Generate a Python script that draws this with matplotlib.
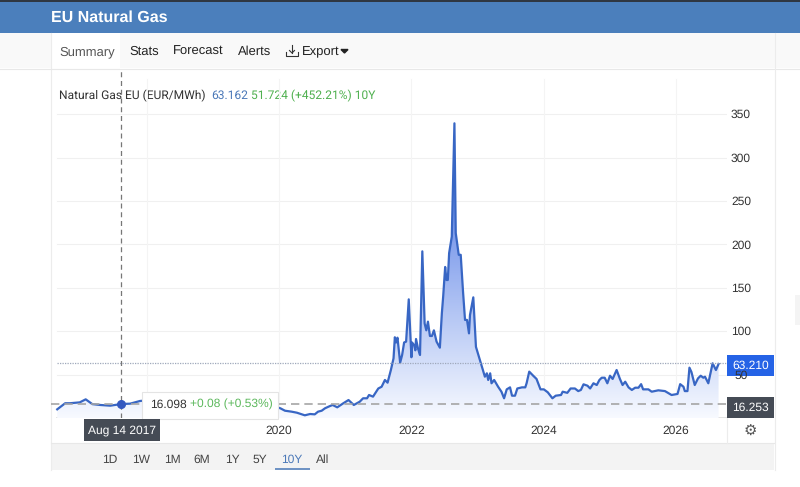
import numpy as np
from matplotlib import pyplot as plt
from matplotlib.patches import Rectangle

plt.rcParams['font.family'] = ['Liberation Sans', 'DejaVu Sans']
plt.rcParams['text.hinting'] = 'none'
plt.rcParams['text.hinting_factor'] = 1

W, H = 800, 487

# decimal years and EUR/MWh
years = [2016.65, 2016.69, 2016.77, 2016.84, 2016.92, 2016.99, 2017.08, 2017.18, 2017.30, 2017.45,
         2017.62, 2017.75, 2017.90, 2018.10, 2018.40, 2018.70, 2018.95, 2019.20, 2019.50, 2019.70,
         2019.90,
         2020.02, 2020.09, 2020.19, 2020.27, 2020.39, 2020.47, 2020.54, 2020.59, 2020.645, 2020.695,
         2020.77, 2020.81, 2020.88, 2020.97, 2021.05, 2021.13, 2021.22, 2021.27, 2021.33, 2021.36,
         2021.42, 2021.50, 2021.55, 2021.60, 2021.64,
         2021.69, 2021.73, 2021.75, 2021.77, 2021.79, 2021.83, 2021.86, 2021.89, 2021.92, 2021.96,
         2022.00, 2022.01, 2022.04, 2022.06, 2022.07, 2022.10, 2022.13, 2022.165, 2022.20, 2022.225,
         2022.25, 2022.28, 2022.31, 2022.34, 2022.38, 2022.43, 2022.46, 2022.48, 2022.51, 2022.53,
         2022.55, 2022.57, 2022.61, 2022.65, 2022.67, 2022.715, 2022.745, 2022.78, 2022.81, 2022.84,
         2022.87, 2022.885, 2022.935, 2022.975,
         2023.04, 2023.08, 2023.11, 2023.14, 2023.16, 2023.19, 2023.21, 2023.25, 2023.31, 2023.36,
         2023.40, 2023.44, 2023.49, 2023.52, 2023.565, 2023.60, 2023.67, 2023.72, 2023.74, 2023.78,
         2023.84, 2023.89, 2023.95, 2024.00, 2024.06, 2024.13, 2024.18, 2024.26, 2024.285, 2024.355,
         2024.405, 2024.47, 2024.52, 2024.56, 2024.60, 2024.66, 2024.70, 2024.75, 2024.80, 2024.84,
         2024.875, 2024.92, 2024.96, 2025.00, 2025.04, 2025.10, 2025.15, 2025.19, 2025.23, 2025.28,
         2025.33, 2025.38, 2025.43, 2025.47, 2025.50, 2025.58, 2025.63, 2025.73, 2025.83, 2025.93,
         2026.02, 2026.06, 2026.11, 2026.13, 2026.17, 2026.20, 2026.23, 2026.28, 2026.33, 2026.37,
         2026.41, 2026.435, 2026.485, 2026.55, 2026.60, 2026.64]
prices = [10, 12.3, 17, 17, 17.6, 18, 21.5, 16, 15, 14.2,
          16.1, 16.5, 19.6, 21, 20, 25, 27, 19, 12, 11,
          14,
          11.2, 8.4, 7.3, 6.1, 3.1, 4.6, 4.2, 7.3, 8.4, 11.2,
          13.8, 15, 12.3, 16.9, 20.7, 15, 18.8, 22.7, 22.7, 26.5,
          24.6, 34, 36, 43.8, 40.7,
          55.3, 68.7, 93, 87, 92.5, 63.7, 72.6, 87, 88, 136.7,
          70, 87, 84, 78, 91, 80, 72.6, 192, 109, 101,
          111, 94.5, 94.5, 101, 88, 81, 120.6, 140, 174, 159,
          159, 190, 209, 339.5, 213, 188, 188, 145.5, 113, 113,
          97.5, 118.7, 139, 82,
          65.7, 55.3, 47.6, 51.5, 43.8, 51.5, 40, 43.8, 36, 30.3,
          22.7, 33, 35.3, 25.7, 25.7, 34, 35.3, 35.3, 40, 53.4,
          48.7, 45, 33, 33, 29.6, 22.7, 25.7, 26.5, 30.3, 29,
          34, 34, 31, 32.3, 38.8, 37.2, 34, 40, 38, 43.8,
          46.4, 46.4, 40, 48.7, 45, 55.3, 45, 38, 41.8, 35.3,
          32.3, 34.9, 34.9, 39, 33, 33, 30.3, 31.9, 31, 26.5,
          27.7, 39, 36, 31, 31, 58, 53, 38, 45.7, 48.7,
          46.4, 47.6, 40, 63, 55.3, 62.2]

y_ticks = [50, 100, 150, 200, 250, 300, 350]
x_ticks = [2018, 2020, 2022, 2024, 2026]
x_labels = [2020, 2022, 2024, 2026]
ranges = ['1D', '1W', '1M', '6M', '1Y', '5Y', '10Y', 'All']
range_pos = [110, 141, 172, 202, 232, 260, 292, 323]
tabs = ['Stats', 'Forecast', 'Alerts']
tab_pos = [129, 173, 238]

last_price = 63.21
low_price = 16.253
cursor_year = 2017.62
cursor_price = 16.098

fig = plt.figure(figsize=(W / 100, H / 100), dpi=100, facecolor='white')

# page furniture is drawn on a full size axes in pixel units
bg = fig.add_axes([0, 0, 1, 1])
bg.set_xlim(0, W)
bg.set_ylim(H, 0)
bg.axis('off')


def box(x0, y0, x1, y1, color, ax=bg, **kw):
    ax.add_patch(Rectangle((x0, y0), x1 - x0, y1 - y0, facecolor=color,
                           edgecolor='none', **kw))


box(0, 0, W, 2, '#2f3742')
box(0, 2, W, 33, '#4b7fbc')
box(0, 33, W, 68, '#f9f9f9')
box(51, 33, 120, 69, 'white')
bg.plot([51, 51], [33, 470], color='#ececec', lw=0.8)
bg.plot([0, W], [68.5, 68.5], color='#e8e8e8', lw=0.8)
bg.plot([774.5, 774.5], [33, 470], color='#ececec', lw=0.8)
box(795, 295, W, 325, '#f4f4f4')
box(51, 443, 774, 470, '#f3f3f3')
bg.plot([51, 774], [443, 443], color='#e8e8e8', lw=0.8)
bg.plot([727, 727], [418, 443], color='#ececec', lw=0.8)

bg.text(51, 18, 'EU Natural Gas', color='white', fontsize=11.2, fontweight='bold', va='center')
bg.text(59, 51.5, 'Summary', color='#555555', fontsize=9.3, va='center')
for name, x in zip(tabs, tab_pos):
    bg.text(x, 51.5, name, color='#222222', fontsize=9.3, va='center')

# export icon and caret
bg.plot([292, 292], [45, 53], color='#333333', lw=0.8)
bg.plot([289.5, 292, 294.5], [50.5, 53, 50.5], color='#333333', lw=0.8)
bg.plot([286, 286, 298, 298], [52, 55.5, 55.5, 52], color='#333333', lw=0.8)
bg.text(302, 51.5, 'Export', color='#222222', fontsize=9.3, va='center')
bg.fill([341, 348, 344.5], [49.5, 49.5, 53], color='#222222')

title_parts = [('Natural Gas EU (EUR/MWh)', '#333333', 59),
               ('63.162', '#4a78b8', 211),
               ('51.724 (+452.21%) 10Y', '#4fb04f', 251)]
for part, col, x in title_parts:
    bg.text(x, 95.5, part, color=col, fontsize=8.3, va='center', family='Roboto')

for name, x in zip(ranges, range_pos):
    bg.text(x, 459.5, name, color='#4a78b8' if name == '10Y' else '#444444',
            fontsize=8.8, ha='center', va='center')
box(275, 468, 310, 470, '#6f93c4')

# chart axes, 0 at pixel row 418 and 0.868 px per EUR/MWh
left, right, top, bottom = 51, 727, 70, 418
ax = fig.add_axes([left / W, 1 - bottom / H, (right - left) / W, (bottom - top) / H])
ax.patch.set_alpha(0)
x_lim = (2020 + (left - 279) / 66.2, 2020 + (right - 279) / 66.2)
y_lim = (0, (bottom - top) / 0.868)
for s in ax.spines.values():
    s.set_visible(False)
ax.tick_params(left=False, bottom=False, labelleft=False, labelbottom=False)

for v in y_ticks:
    ax.plot([years[0], x_lim[1]], [v, v], color='#f0f0f0', lw=0.8, zorder=1)
ax.plot([years[0], x_lim[1]], [0, 0], color='#e4e4e4', lw=1.4, zorder=1)
for t in x_ticks:
    ax.plot([t, t], [0, 390], color='#f4f4f4', lw=0.8, zorder=1)

# gradient under the line
fill = ax.fill_between(years, prices, 0, color='none')
grad = np.linspace(0, 1, 256).reshape(-1, 1)
c_top = np.array([0.22, 0.40, 0.88])
c_low = np.array([0.97, 0.98, 1.0])
rgb = c_low + (c_top - c_low) * grad[..., None]
img = ax.imshow(rgb, extent=[years[0], years[-1], 0, max(prices)], origin='lower',
                aspect='auto', zorder=2)
img.set_clip_path(fill.get_paths()[0], transform=ax.transData)
ax.set_xlim(*x_lim)
ax.set_ylim(*y_lim)

ax.plot(years, prices, color='#3866c4', lw=1.6, zorder=3, solid_joinstyle='round')
ax.plot([years[0], x_lim[1]], [last_price, last_price], color='#9fa8bb', lw=0.9,
        ls=(0, (1, 1)), zorder=4)
ax.axhline(low_price, color='#a5a5a5', lw=1.2, ls=(0, (5, 3)), zorder=4)
ax.plot([cursor_year, cursor_year], [0, 400], color='#777777', lw=0.9, ls=(0, (4, 3)),
        zorder=4, clip_on=True)
ax.plot([cursor_year], [cursor_price], 'o', color='#3358c0', ms=5.5, zorder=5)

# labels over the chart
over = fig.add_axes([0, 0, 1, 1])
over.set_xlim(0, W)
over.set_ylim(H, 0)
over.axis('off')
over.patch.set_alpha(0)

for v in y_ticks:
    over.text(741, 419 - v * 0.868, str(v), color='#333333', fontsize=8.8,
              ha='center', va='center')
for yr in x_labels:
    over.text(279 + (yr - 2020) * 66.2, 430.5, str(yr), color='#333333', fontsize=8.8,
              ha='center', va='center')

over.add_patch(Rectangle((142, 391.5), 136, 27.5, facecolor='white', edgecolor='#e4e4e4', lw=0.8))
over.text(150, 404.5, '16.098', color='#333333', fontsize=8.8, va='center')
over.text(190, 404.5, '+0.08 (+0.53%)', color='#5cb85c', fontsize=8.8, va='center')

box(84, 419, 160, 441, '#454b55', ax=over)
over.text(122, 430.5, 'Aug 14 2017', color='white', fontsize=8.8, ha='center', va='center')

box(727, 355, 774, 376, '#2563e6', ax=over)
over.text(750.5, 366, '63.210', color='white', fontsize=8.8, ha='center', va='center')
box(727, 397, 774, 418, '#454b55', ax=over)
over.text(750.5, 408, '16.253', color='white', fontsize=8.8, ha='center', va='center')
over.text(750.5, 432, '\u2699', color='#555555', fontsize=11, ha='center', va='center',
          family='DejaVu Sans')

fig.savefig('out.png', dpi=100)
